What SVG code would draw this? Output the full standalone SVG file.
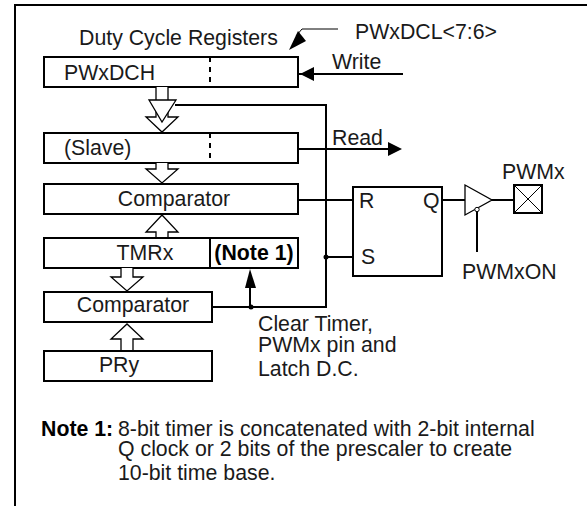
<svg xmlns="http://www.w3.org/2000/svg" width="587" height="506" viewBox="0 0 587 506">
<style>
text{font-family:"Liberation Sans",Arial,sans-serif;font-size:21.300px;fill:#1a1a1a}
.b{fill:#fff;stroke:#000;stroke-width:2}
.w{fill:none;stroke:#000;stroke-width:2}
.t{fill:none;stroke:#000;stroke-width:1}
.h{fill:#fff;stroke:#000;stroke-width:1.300}
.f{fill:#000}
.d{font-weight:bold;fill:#000}
</style>
<rect width="587" height="506" fill="#fff"/>
<path class="w" d="M15 506V5H587"/>
<g id="connectors">
<path class="w" d="M175 105H326V307H212"/>
<path class="w" d="M298 74H403"/>
<path class="f" d="M300 74L314 67V81Z"/>
<path class="t" d="M338 29H302L296 36"/>
<path class="f" d="M289 50L298 31L306 41Z"/>
<path class="w" d="M298 149H390"/>
<path class="f" d="M402 149L388 142V156Z"/>
<path class="w" d="M298 200H353"/>
<path class="w" d="M326 257H353"/>
<path class="w" d="M250 307V285"/>
<path class="f" d="M250 269L245 288H256Z"/>
<circle class="f" cx="251" cy="307" r="2.500"/>
<circle class="f" cx="326" cy="257" r="2.500"/>
<path class="w" d="M443 200H465M491 200H514"/>
<path class="w" d="M477 212V252"/>
</g>
<g id="pwxdch"><rect class="b" x="44" y="57" width="254" height="30"/><path class="w" d="M210 57V87" stroke-dasharray="5 5"/><text x="64" y="80">PWxDCH</text></g>
<g id="bus1"><path class="h" d="M156 87V117H146L162 132L178 117H168V87"/><path class="h" d="M149 100H176L162 122Z"/></g>
<g id="slave"><rect class="b" x="44" y="133" width="254" height="30"/><path class="w" d="M210 133V163" stroke-dasharray="5 5"/><text x="64" y="155">(Slave)</text></g>
<g id="bus2"><path class="h" d="M156 163V169H146L162 183L178 169H168V163"/></g>
<g id="comparator1"><rect class="b" x="44" y="184" width="254" height="30"/><text x="174" y="206" text-anchor="middle">Comparator</text></g>
<g id="bus3"><path class="h" d="M156 238V232H146L162 215L178 232H168V238"/></g>
<g id="tmrx"><rect class="b" x="44" y="238" width="254" height="30"/><path class="w" d="M210 238V268"/><text x="145" y="260" text-anchor="middle">TMRx</text><text class="d" x="254" y="260" text-anchor="middle">(Note 1)</text></g>
<g id="bus4"><path class="h" d="M121 268V277H111L127 291L143 277H133V268"/></g>
<g id="comparator2"><rect class="b" x="44" y="292" width="168" height="30"/><text x="133" y="312" text-anchor="middle">Comparator</text></g>
<g id="bus5"><path class="h" d="M121 351V339H111L127 324L143 339H133V351"/></g>
<g id="pry"><rect class="b" x="44" y="351" width="168" height="30"/><text x="119" y="372" text-anchor="middle">PRy</text></g>
<g id="latch"><rect class="b" x="353" y="187" width="89" height="89"/><text x="359" y="208">R</text><text x="423" y="208">Q</text><text x="361" y="264">S</text></g>
<g id="buffer"><path class="h" d="M465 185L492 200L465 215Z" stroke-width="1"/><circle cx="477" cy="209.500" r="2.200" fill="#fff" stroke="#000"/></g>
<g id="pwmx"><rect class="b" x="514" y="185" width="28" height="28"/><path class="t" d="M514 185L542 213M542 185L514 213"/></g>
<g id="labels">
<text x="79" y="45">Duty Cycle Registers</text>
<text x="355" y="39">PWxDCL&lt;7:6&gt;</text>
<text x="332" y="69">Write</text>
<text x="332" y="145">Read</text>
<text x="502" y="179">PWMx</text>
<text x="462" y="279">PWMxON</text>
<text x="258" y="331">Clear Timer,</text>
<text x="258" y="352">PWMx pin and</text>
<text x="258" y="376">Latch D.C.</text>
<text class="d" x="41" y="436">Note 1:</text>
<text x="118" y="436">8-bit timer is concatenated with 2-bit internal</text>
<text x="118" y="456">Q clock or 2 bits of the prescaler to create</text>
<text x="118" y="480">10-bit time base.</text>
</g>
</svg>
